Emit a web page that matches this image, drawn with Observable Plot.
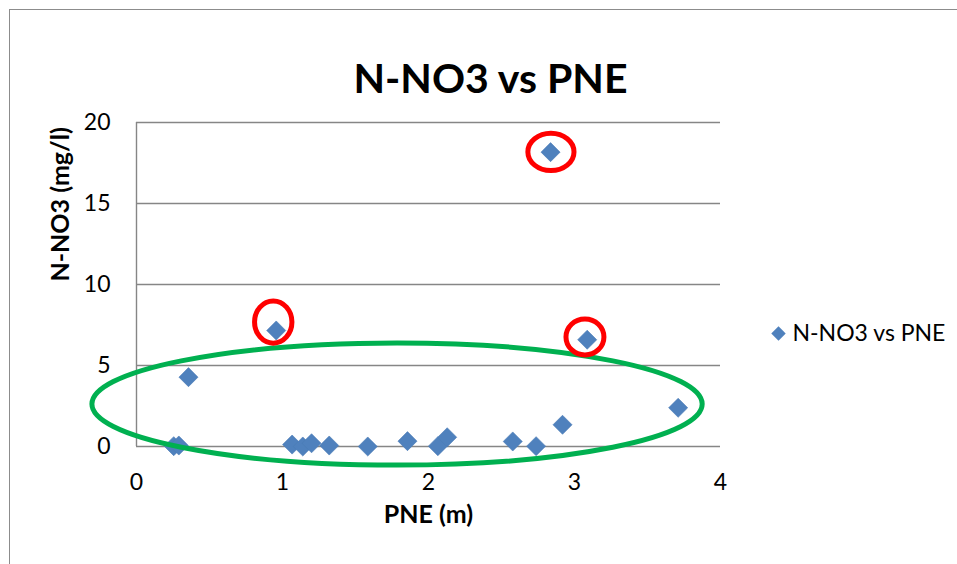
<!DOCTYPE html>
<html><head><meta charset="utf-8">
<script src="https://cdn.jsdelivr.net/npm/d3@7"></script>
<script src="https://cdn.jsdelivr.net/npm/@observablehq/plot@0.6"></script>
<style>
body{margin:0;background:#fff;}
#wrap{position:relative;width:957px;height:564px;overflow:hidden;background:#fff;}
#frame{position:absolute;left:9px;top:9px;width:2000px;height:2000px;border-left:1.5px solid #8c8c8c;border-top:1.5px solid #8c8c8c;}
#chart{position:absolute;left:0;top:0;}
</style></head><body>
<div id="wrap"><div id="frame"></div><div id="chart"></div></div>
<script>
// Data
const pne   = [0.255, 0.29, 0.356, 0.957, 1.066, 1.139, 1.199, 1.32, 1.584, 1.856, 2.064, 2.128, 2.577, 2.737, 2.918, 3.087, 3.71, 2.836];
const nno3  = [0.02, 0.06, 4.28, 7.16, 0.12, 0.0, 0.2, 0.06, 0.0, 0.33, 0.02, 0.57, 0.31, 0.02, 1.34, 6.59, 2.39, 18.17];
const xTicks = [0, 1, 2, 3, 4];
const yTicks = [0, 5, 10, 15, 20];
const chartTitle = "N-NO3 vs PNE";
const seriesName = "N-NO3 vs PNE";
const xTitle = "PNE (m)";
const yTitle = "N-NO3 (mg/l)";
// hand-drawn highlight annotations (centre and radii in data units)
const annCx = [1.788, 2.842, 0.940, 3.075];
const annCy = [2.59, 18.15, 7.65, 6.73];
const annRx = [2.09, 0.158, 0.128, 0.130];
const annRy = [3.77, 1.15, 1.30, 1.11];
const annColor = ["#00b050", "#ff0000", "#ff0000", "#ff0000"];

const points = pne.map((x, i) => ({x, y: nno3[i]}));
const annotations = annCx.map((cx, i) => ({cx, cy: annCy[i], rx: annRx[i], ry: annRy[i], color: annColor[i]}));

const FONT = "Lato, 'Open Sans', sans-serif";
const BLUE = "#4f81bd";

function ellipseMark(data) {
  return (index, scales) => {
    const g = d3.create("svg:g");
    for (const a of data) {
      const cx = scales.x(a.cx), cy = scales.y(a.cy);
      const rx = Math.abs(scales.x(a.cx + a.rx) - cx);
      const ry = Math.abs(scales.y(a.cy + a.ry) - cy);
      g.append("ellipse")
        .attr("cx", cx).attr("cy", cy).attr("rx", rx).attr("ry", ry)
        .attr("fill", "none").attr("stroke", a.color).attr("stroke-width", 5);
    }
    return g.node();
  };
}

const chart = Plot.plot({
  width: 957,
  height: 564,
  marginLeft: 136,
  marginRight: 237,
  marginTop: 122,
  marginBottom: 118,
  style: {fontFamily: FONT, background: "transparent", color: "#000", overflow: "visible"},
  x: {domain: [0, 4]},
  y: {domain: [0, 20]},
  marks: [
    Plot.ruleY(yTicks, {stroke: "#868686", strokeWidth: 1.4}),
    Plot.ruleX([0], {stroke: "#868686", strokeWidth: 1.4}),
    Plot.axisY(yTicks, {tickSize: 0, tickPadding: 26, fontSize: 23, label: null, fill: "#000", tickFormat: d3.format("d")}),
    Plot.axisX(xTicks, {tickSize: 0, tickPadding: 27, fontSize: 23, label: null, fill: "#000", tickFormat: d3.format("d")}),
    Plot.dot(points, {x: "x", y: "y", symbol: "diamond2", r: 8.6, fill: BLUE, stroke: "#4a7ab5", strokeWidth: 0.6}),
    Plot.text([chartTitle], {frameAnchor: "top", dx: 62, dy: -59, fontSize: 41, fontWeight: "bold", fill: "#000"}),
    Plot.text([xTitle], {frameAnchor: "bottom", dy: 76, fontSize: 25, fontWeight: "bold", fill: "#000"}),
    Plot.text([yTitle], {frameAnchor: "left", dx: -76, dy: -3, rotate: -90, fontSize: 25, fontWeight: "bold", fill: "#000"}),
    Plot.dot([seriesName], {frameAnchor: "right", dx: 58, dy: 49, symbol: "diamond2", r: 6.5, fill: BLUE}),
    Plot.text([seriesName], {frameAnchor: "right", dx: 72, dy: 49, textAnchor: "start", fontSize: 23, fill: "#000"}),
    ellipseMark(annotations)
  ]
});
document.getElementById("chart").appendChild(chart);
</script>
</body></html>
